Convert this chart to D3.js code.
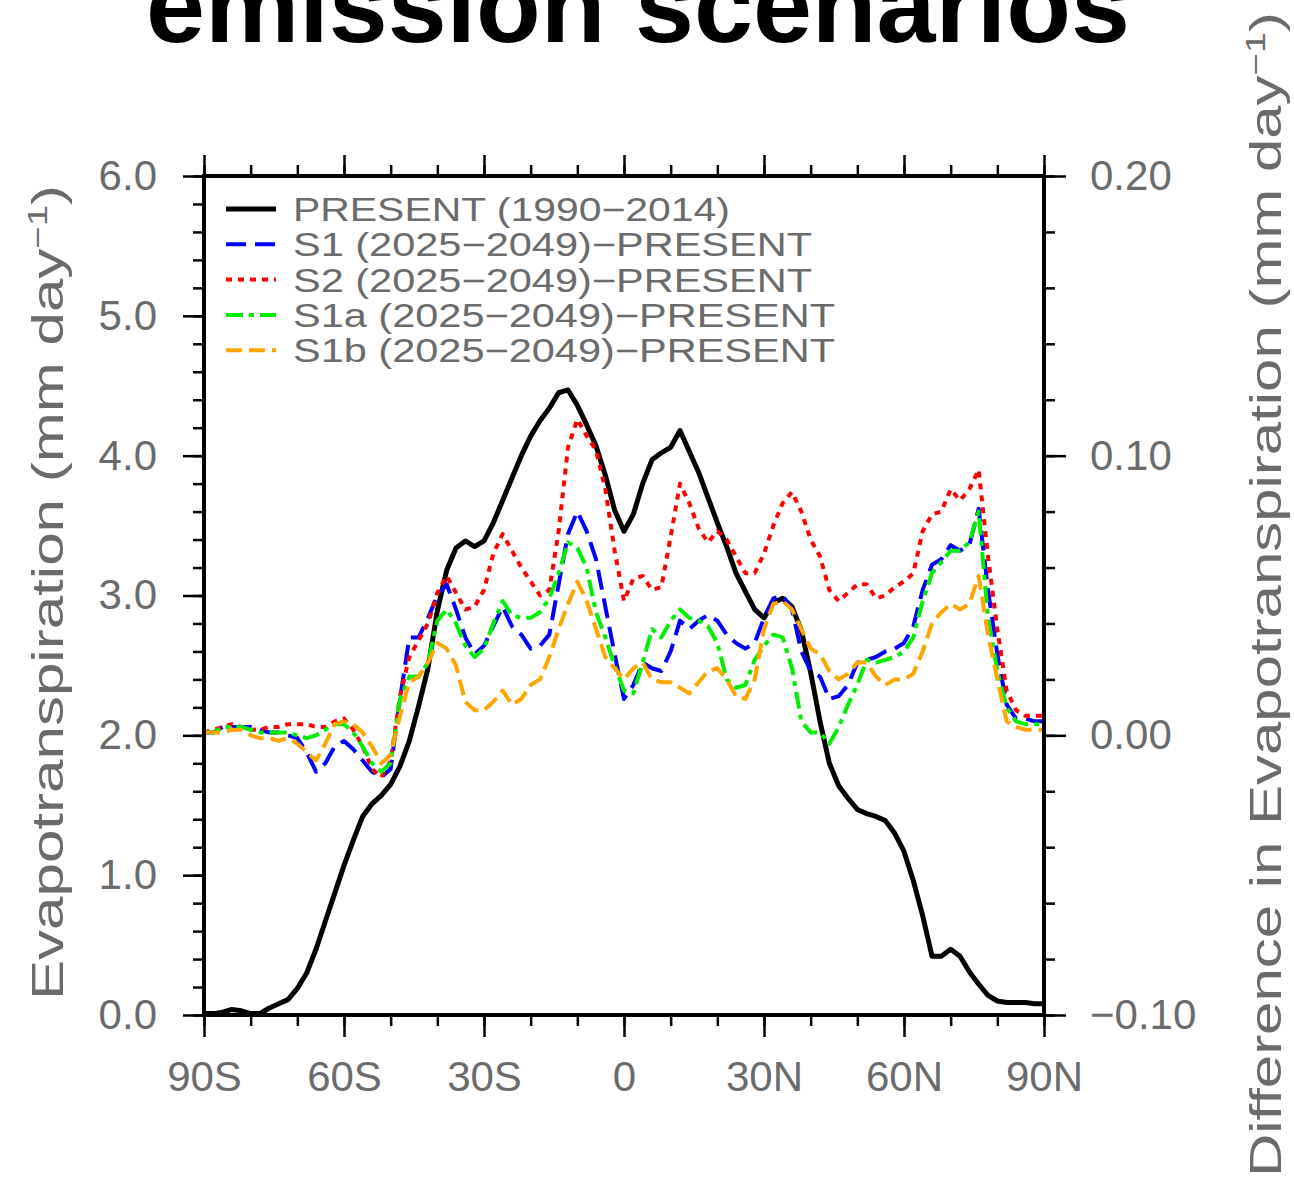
<!DOCTYPE html>
<html>
<head>
<meta charset="utf-8">
<script src="https://cdn.jsdelivr.net/npm/d3@7"></script>
<style>
  body { margin: 0; background: #fff; }
  svg { display: block; }
</style>
</head>
<body>
<svg id="chart" width="1294" height="1181"></svg>
<script>
// zonal means, 2 degree latitude bands
const latitudes = [
  -90, -88, -86, -84, -82, -80, -78, -76, -74, -72,
  -70, -68, -66, -64, -62, -60, -58, -56, -54, -52,
  -50, -48, -46, -44, -42, -40, -38, -36, -34, -32,
  -30, -28, -26, -24, -22, -20, -18, -16, -14, -12,
  -10, -8, -6, -4, -2, 0, 2, 4, 6, 8,
  10, 12, 14, 16, 18, 20, 22, 24, 26, 28,
  30, 32, 34, 36, 38, 40, 42, 44, 46, 48,
  50, 52, 54, 56, 58, 60, 62, 64, 66, 68,
  70, 72, 74, 76, 78, 80, 82, 84, 86, 88,
  90
];

// PRESENT (1990-2014), left axis, mm/day
const present = [
  0.01, 0.01, 0.02, 0.04, 0.03, 0.01, 0.01, 0.05, 0.08, 0.11,
  0.19, 0.30, 0.47, 0.67, 0.87, 1.07, 1.25, 1.42, 1.51, 1.57,
  1.65, 1.78, 1.96, 2.21, 2.48, 2.89, 3.18, 3.34, 3.39, 3.35,
  3.39, 3.52, 3.68, 3.84, 4.00, 4.14, 4.25, 4.34, 4.45, 4.47,
  4.36, 4.22, 4.07, 3.86, 3.61, 3.46, 3.58, 3.80, 3.97, 4.02,
  4.06, 4.18, 4.03, 3.88, 3.70, 3.52, 3.35, 3.16, 3.03, 2.90,
  2.84, 2.95, 2.98, 2.92, 2.75, 2.45, 2.10, 1.80, 1.64, 1.55,
  1.47, 1.44, 1.42, 1.39, 1.30, 1.17, 0.96, 0.71, 0.42, 0.42,
  0.47, 0.42, 0.31, 0.22, 0.14, 0.10, 0.09, 0.09, 0.09, 0.08,
  0.08
];

// differences from PRESENT, right axis, mm/day
const s1 = [
  0.001, 0.001, 0.003, 0.003, 0.003, 0.003, 0.002, 0.001, 0.001, 0.000,
  -0.001, -0.006, -0.013, -0.010, -0.004, -0.002, -0.005, -0.009, -0.013, -0.015,
  -0.012, 0.013, 0.035, 0.035, 0.042, 0.050, 0.054, 0.045, 0.035, 0.029,
  0.032, 0.039, 0.046, 0.039, 0.036, 0.031, 0.032, 0.036, 0.054, 0.072,
  0.080, 0.073, 0.063, 0.046, 0.029, 0.013, 0.018, 0.026, 0.024, 0.023,
  0.030, 0.041, 0.038, 0.041, 0.043, 0.041, 0.036, 0.033, 0.031, 0.033,
  0.042, 0.049, 0.050, 0.045, 0.030, 0.023, 0.021, 0.013, 0.014, 0.018,
  0.026, 0.027, 0.028, 0.030, 0.031, 0.033, 0.039, 0.052, 0.061, 0.063,
  0.068, 0.066, 0.068, 0.081, 0.052, 0.029, 0.011, 0.006, 0.006, 0.005,
  0.005
];

const s2 = [
  0.001, 0.002, 0.003, 0.004, 0.003, 0.002, 0.002, 0.003, 0.003, 0.004,
  0.004, 0.004, 0.003, 0.003, 0.005, 0.006, 0.002, -0.004, -0.012, -0.015,
  -0.009, 0.014, 0.028, 0.034, 0.040, 0.051, 0.057, 0.051, 0.045, 0.046,
  0.052, 0.065, 0.072, 0.066, 0.060, 0.055, 0.050, 0.052, 0.073, 0.103,
  0.113, 0.107, 0.102, 0.088, 0.066, 0.048, 0.056, 0.057, 0.052, 0.053,
  0.071, 0.090, 0.083, 0.074, 0.069, 0.073, 0.070, 0.064, 0.058, 0.058,
  0.065, 0.075, 0.083, 0.087, 0.080, 0.070, 0.064, 0.052, 0.048, 0.051,
  0.054, 0.054, 0.049, 0.050, 0.053, 0.055, 0.058, 0.073, 0.079, 0.080,
  0.088, 0.084, 0.088, 0.095, 0.064, 0.038, 0.016, 0.009, 0.007, 0.007,
  0.007
];

const s1a = [
  0.001, 0.001, 0.003, 0.003, 0.003, 0.002, 0.001, 0.001, 0.001, 0.001,
  0.000, -0.001, 0.000, 0.002, 0.004, 0.004, 0.001, -0.004, -0.010, -0.013,
  -0.010, 0.013, 0.021, 0.021, 0.026, 0.041, 0.045, 0.040, 0.032, 0.028,
  0.031, 0.040, 0.048, 0.043, 0.042, 0.042, 0.044, 0.049, 0.058, 0.069,
  0.067, 0.060, 0.044, 0.035, 0.025, 0.016, 0.015, 0.026, 0.038, 0.035,
  0.041, 0.045, 0.042, 0.041, 0.039, 0.033, 0.020, 0.017, 0.018, 0.027,
  0.032, 0.036, 0.035, 0.024, 0.005, 0.001, 0.001, -0.003, 0.003, 0.011,
  0.018, 0.027, 0.026, 0.027, 0.028, 0.030, 0.035, 0.048, 0.058, 0.062,
  0.066, 0.066, 0.069, 0.080, 0.042, 0.023, 0.010, 0.005, 0.004, 0.004,
  0.004
];

const s1b = [
  0.001, 0.001, 0.001, 0.002, 0.002, 0.000, -0.001, -0.001, -0.002, -0.001,
  -0.003, -0.006, -0.009, -0.003, 0.004, 0.005, 0.004, 0.001, -0.004, -0.010,
  -0.007, 0.007, 0.019, 0.021, 0.026, 0.033, 0.031, 0.025, 0.012, 0.009,
  0.009, 0.012, 0.016, 0.011, 0.013, 0.018, 0.020, 0.028, 0.038, 0.047,
  0.055, 0.048, 0.038, 0.028, 0.024, 0.020, 0.024, 0.026, 0.020, 0.019,
  0.019, 0.017, 0.015, 0.019, 0.023, 0.024, 0.020, 0.014, 0.013, 0.020,
  0.038, 0.047, 0.048, 0.045, 0.038, 0.031, 0.029, 0.023, 0.020, 0.022,
  0.026, 0.026, 0.021, 0.018, 0.020, 0.020, 0.022, 0.030, 0.040, 0.044,
  0.047, 0.045, 0.047, 0.057, 0.036, 0.020, 0.005, 0.003, 0.002, 0.002,
  0.002
];

const legendLabels = [
  'PRESENT (1990\u22122014)',
  'S1 (2025\u22122049)\u2212PRESENT',
  'S2 (2025\u22122049)\u2212PRESENT',
  'S1a (2025\u22122049)\u2212PRESENT',
  'S1b (2025\u22122049)\u2212PRESENT'
];
const latTicks = [-90, -60, -30, 0, 30, 60, 90];
const latTickLabels = ['90S', '60S', '30S', '0', '30N', '60N', '90N'];
const leftTicks = [0, 1, 2, 3, 4, 5, 6];
const rightTicks = [-0.1, 0, 0.1, 0.2];

const plot = { left: 204, right: 1044, top: 176, bottom: 1015 };
const labelFont = "'Liberation Sans', Arial, sans-serif";
const grey = '#6b6b6b';

const svg = d3.select('#chart');

const x = d3.scaleLinear().domain([-90, 90]).range([plot.left, plot.right]);
const yLeft = d3.scaleLinear().domain([0, 6]).range([plot.bottom, plot.top]);
const yRight = d3.scaleLinear().domain([-0.1, 0.2]).range([plot.bottom, plot.top]);

// title (cut at the top edge, as in the figure)
svg.append('text')
  .attr('x', 638)
  .attr('y', 42)
  .attr('text-anchor', 'middle')
  .style('font-family', labelFont)
  .style('font-weight', 'bold')
  .style('font-size', '106px')
  .text('emission scenarios');

// axes
function styleAxis(g, size) {
  g.select('.domain').remove();
  g.selectAll('.tick line').attr('stroke', '#000').attr('stroke-width', 2.5);
  g.selectAll('.tick text')
    .attr('fill', grey)
    .style('font-family', labelFont)
    .style('font-size', size + 'px');
}

svg.append('g')
  .attr('transform', `translate(${plot.left},0)`)
  .call(d3.axisLeft(yLeft).tickValues(yLeft.ticks(30)).tickSize(11).tickFormat(''))
  .call(g => styleAxis(g, 42));
svg.append('g')
  .attr('transform', `translate(${plot.left},0)`)
  .call(d3.axisLeft(yLeft).tickValues(leftTicks).tickSize(21).tickPadding(26).tickFormat(d3.format('.1f')))
  .call(g => styleAxis(g, 42));

svg.append('g')
  .attr('transform', `translate(${plot.right},0)`)
  .call(d3.axisRight(yRight).tickValues(yRight.ticks(15)).tickSize(11).tickFormat(''))
  .call(g => styleAxis(g, 42));
svg.append('g')
  .attr('transform', `translate(${plot.right},0)`)
  .call(d3.axisRight(yRight).tickValues(rightTicks).tickSize(22).tickPadding(24).tickFormat(d3.format('.2f')))
  .call(g => styleAxis(g, 42));

svg.append('g')
  .attr('transform', `translate(0,${plot.bottom})`)
  .call(d3.axisBottom(x).tickValues(x.ticks(18)).tickSize(11).tickFormat(''))
  .call(g => styleAxis(g, 42));
svg.append('g')
  .attr('transform', `translate(0,${plot.bottom})`)
  .call(d3.axisBottom(x).tickValues(latTicks).tickSize(22).tickPadding(24)
    .tickFormat((d, i) => latTickLabels[i]))
  .call(g => styleAxis(g, 42));

svg.append('g')
  .attr('transform', `translate(0,${plot.top})`)
  .call(d3.axisTop(x).tickValues(x.ticks(18)).tickSize(11).tickFormat(''))
  .call(g => styleAxis(g, 42));
svg.append('g')
  .attr('transform', `translate(0,${plot.top})`)
  .call(d3.axisTop(x).tickValues(latTicks).tickSize(21).tickFormat(''))
  .call(g => styleAxis(g, 42));

// curves
const series = [
  { values: present, scale: yLeft, color: '#000000', dash: null, width: 5 },
  { values: s1, scale: yRight, color: '#0000ff', dash: '20,9', width: 4 },
  { values: s2, scale: yRight, color: '#ff0000', dash: '6,6', width: 4 },
  { values: s1a, scale: yRight, color: '#00ee00', dash: '17,6,5,6', width: 4 },
  { values: s1b, scale: yRight, color: '#ffa500', dash: '16,7', width: 4 }
];

series.forEach(s => {
  const line = d3.line()
    .x((d, i) => x(latitudes[i]))
    .y(d => s.scale(d));
  svg.append('path')
    .datum(s.values)
    .attr('d', line)
    .attr('fill', 'none')
    .attr('stroke', s.color)
    .attr('stroke-width', s.width)
    .attr('stroke-linejoin', 'round')
    .attr('stroke-dasharray', s.dash);
});

// frame
svg.append('rect')
  .attr('x', plot.left)
  .attr('y', plot.top)
  .attr('width', plot.right - plot.left)
  .attr('height', plot.bottom - plot.top)
  .attr('fill', 'none')
  .attr('stroke', '#000')
  .attr('stroke-width', 4);

// legend
const legendText = [437, 519, 519, 542, 542];
const legend = svg.append('g').attr('transform', 'translate(226,209)');
const items = legend.selectAll('g')
  .data(series)
  .join('g')
  .attr('transform', (d, i) => `translate(0,${i * 35.3})`);
items.append('line')
  .attr('x1', 0).attr('x2', 50)
  .attr('stroke', d => d.color)
  .attr('stroke-width', d => d.width)
  .attr('stroke-dasharray', d => d.dash);
items.append('text')
  .attr('x', 67)
  .attr('y', 12)
  .attr('fill', grey)
  .attr('textLength', (d, i) => legendText[i])
  .attr('lengthAdjust', 'spacingAndGlyphs')
  .style('font-family', labelFont)
  .style('font-size', '33px')
  .text((d, i) => legendLabels[i]);

// axis titles
function axisTitle(tx, ty, label, len) {
  const t = svg.append('text')
    .attr('transform', `translate(${tx},${ty}) rotate(-90)`)
    .attr('fill', grey)
    .attr('textLength', len)
    .attr('lengthAdjust', 'spacingAndGlyphs')
    .style('font-family', labelFont)
    .style('font-size', '44px');
  t.append('tspan').text(label + ' (mm day');
  t.append('tspan').attr('dy', -16).style('font-size', '28px').text('\u22121');
  t.append('tspan').attr('dy', 16).text(')');
}
axisTitle(63, 1000, 'Evapotranspiration', 815);
axisTitle(1281, 1177, 'Difference in Evapotranspiration', 1165);
</script>
</body>
</html>
